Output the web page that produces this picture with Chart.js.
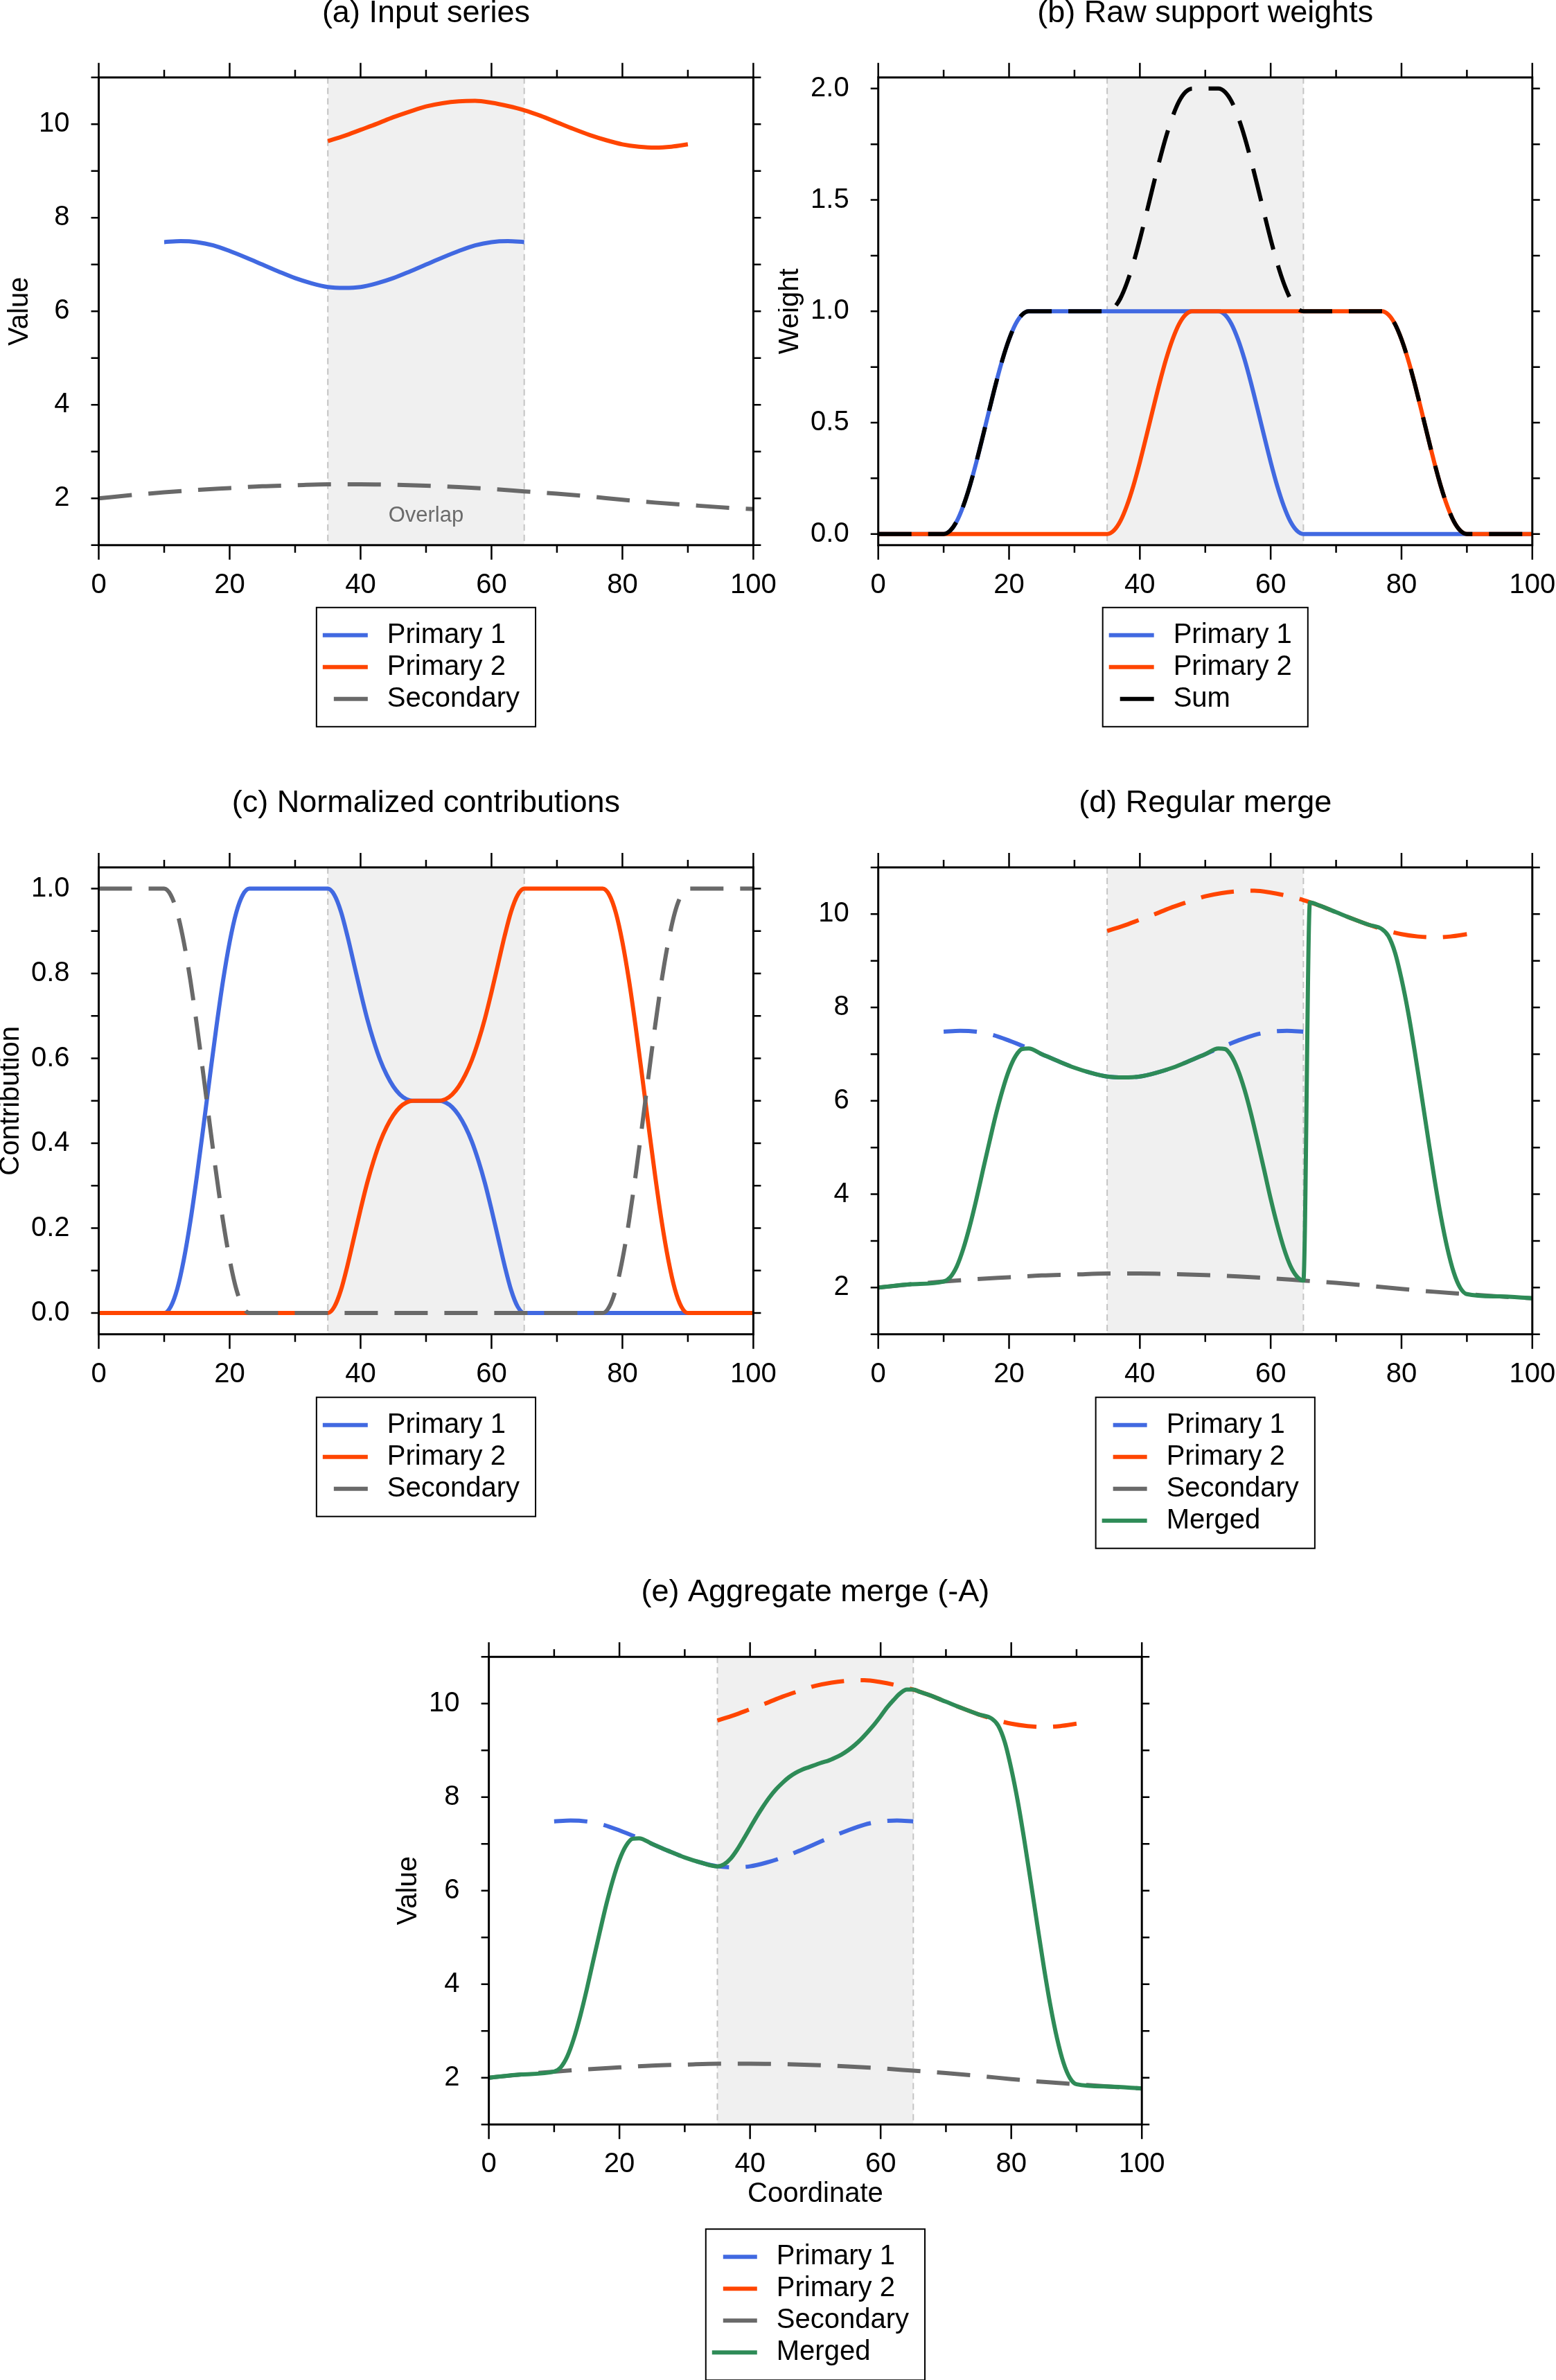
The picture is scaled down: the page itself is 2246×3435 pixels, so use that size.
<!DOCTYPE html>
<html>
<head>
<meta charset="utf-8">
<title>Merge panels</title>
<script src="https://cdn.jsdelivr.net/npm/chart.js@4.4.1/dist/chart.umd.min.js"></script>
<style>
  html, body { margin: 0; padding: 0; background: #fff; }
  #page { position: relative; width: 2246px; height: 3435px; }
  canvas { position: absolute; }
</style>
</head>
<body>
<div id="page">
  <canvas id="panelA" width="1123" height="1100" style="left:0px;top:0px"></canvas>
  <canvas id="panelB" width="1123" height="1100" style="left:1123px;top:0px"></canvas>
  <canvas id="panelC" width="1123" height="1130" style="left:0px;top:1110px"></canvas>
  <canvas id="panelD" width="1123" height="1130" style="left:1123px;top:1110px"></canvas>
  <canvas id="panelE" width="1130" height="1190" style="left:560px;top:2245px"></canvas>
</div>
<script>
// ---- axis ticks ----
var xTickVals = [0, 20, 40, 60, 80, 100];
var xTickLabels = ["0", "20", "40", "60", "80", "100"];
var xMinorVals = [10, 30, 50, 70, 90];
var valueTicks = [2, 4, 6, 8, 10];
var valueLabels = ["2", "4", "6", "8", "10"];
var valueMinor = [1, 3, 5, 7, 9, 11];
var weightTicks = [0, 0.5, 1, 1.5, 2];
var weightLabels = ["0.0", "0.5", "1.0", "1.5", "2.0"];
var weightMinor = [0.25, 0.75, 1.25, 1.75];
var contribTicks = [0, 0.2, 0.4, 0.6, 0.8, 1];
var contribLabels = ["0.0", "0.2", "0.4", "0.6", "0.8", "1.0"];
var contribMinor = [0.1, 0.3, 0.5, 0.7, 0.9];

var overlapRange = [35, 65];

// ---- input series ----
var primary1X = [10, 12.5, 15, 17.5, 20, 22.5, 25, 27.5, 30, 32.5, 35, 37.5, 40, 42.5, 45, 47.5, 50, 52.5, 55, 57.5, 60, 62.5, 65];
var primary1Y = [7.48, 7.5, 7.48, 7.41, 7.29, 7.15, 7.0, 6.85, 6.71, 6.6, 6.52, 6.5, 6.52, 6.6, 6.71, 6.85, 7.0, 7.15, 7.29, 7.41, 7.48, 7.5, 7.48];
var primary2X = [35, 37.5, 40, 42.5, 45, 47.5, 50, 52.5, 55, 57.5, 60, 62.5, 65, 67.5, 70, 72.5, 75, 77.5, 80, 82.5, 85, 87.5, 90];
var primary2Y = [9.64, 9.75, 9.88, 10.01, 10.15, 10.27, 10.38, 10.45, 10.49, 10.5, 10.46, 10.39, 10.3, 10.18, 10.04, 9.9, 9.77, 9.66, 9.57, 9.52, 9.5, 9.52, 9.57];
var secondaryX = [0, 5, 10, 15, 20, 25, 30, 35, 40, 45, 50, 55, 60, 65, 70, 75, 80, 85, 90, 95, 100];
var secondaryY = [2.0, 2.07, 2.13, 2.18, 2.22, 2.26, 2.28, 2.3, 2.3, 2.29, 2.27, 2.24, 2.2, 2.15, 2.1, 2.04, 1.97, 1.91, 1.86, 1.81, 1.77];

// ---- raw support weights ----
var weight1X = [0, 10, 11, 12, 13, 14, 15, 16, 17, 18, 19, 20, 21, 22, 23, 52, 53, 54, 55, 56, 57, 58, 59, 60, 61, 62, 63, 64, 65, 100];
var weight1Y = [0, 0, 0.015, 0.057, 0.126, 0.216, 0.323, 0.44, 0.56, 0.677, 0.784, 0.874, 0.943, 0.985, 1, 1, 0.985, 0.943, 0.874, 0.784, 0.677, 0.56, 0.44, 0.323, 0.216, 0.126, 0.057, 0.015, 0, 0];
var weight2X = [0, 35, 36, 37, 38, 39, 40, 41, 42, 43, 44, 45, 46, 47, 48, 77, 78, 79, 80, 81, 82, 83, 84, 85, 86, 87, 88, 89, 90, 100];
var weight2Y = [0, 0, 0.015, 0.057, 0.126, 0.216, 0.323, 0.44, 0.56, 0.677, 0.784, 0.874, 0.943, 0.985, 1, 1, 0.985, 0.943, 0.874, 0.784, 0.677, 0.56, 0.44, 0.323, 0.216, 0.126, 0.057, 0.015, 0, 0];
var weightSumX = [0, 10, 11, 12, 13, 14, 15, 16, 17, 18, 19, 20, 21, 22, 23,
  35, 36, 37, 38, 39, 40, 41, 42, 43, 44, 45, 46, 47, 48,
  52, 53, 54, 55, 56, 57, 58, 59, 60, 61, 62, 63, 64, 65,
  77, 78, 79, 80, 81, 82, 83, 84, 85, 86, 87, 88, 89, 90, 100];
var weightSumY = [0, 0, 0.015, 0.057, 0.126, 0.216, 0.323, 0.44, 0.56, 0.677, 0.784, 0.874, 0.943, 0.985, 1,
  1, 1.015, 1.057, 1.126, 1.216, 1.323, 1.44, 1.56, 1.677, 1.784, 1.874, 1.943, 1.985, 2,
  2, 1.985, 1.943, 1.874, 1.784, 1.677, 1.56, 1.44, 1.323, 1.216, 1.126, 1.057, 1.015, 1,
  1, 0.985, 0.943, 0.874, 0.784, 0.677, 0.56, 0.44, 0.323, 0.216, 0.126, 0.057, 0.015, 0, 0];

// ---- normalized contributions ----
var contrib1X = [0, 10, 11, 12, 13, 14, 15, 16, 17, 18, 19, 20, 21, 22, 23,
  35, 36, 37, 38, 39, 40, 41, 42, 43, 44, 45, 46, 47, 48,
  52, 53, 54, 55, 56, 57, 58, 59, 60, 61, 62, 63, 64, 65, 100];
var contrib1Y = [0, 0, 0.015, 0.057, 0.126, 0.216, 0.323, 0.44, 0.56, 0.677, 0.784, 0.874, 0.943, 0.985, 1,
  1, 0.985, 0.946, 0.888, 0.822, 0.756, 0.694, 0.641, 0.596, 0.561, 0.534, 0.515, 0.504, 0.5,
  0.5, 0.496, 0.485, 0.466, 0.439, 0.404, 0.359, 0.306, 0.244, 0.178, 0.112, 0.054, 0.015, 0, 0];
var contrib2X = [0, 35, 36, 37, 38, 39, 40, 41, 42, 43, 44, 45, 46, 47, 48,
  52, 53, 54, 55, 56, 57, 58, 59, 60, 61, 62, 63, 64, 65,
  77, 78, 79, 80, 81, 82, 83, 84, 85, 86, 87, 88, 89, 90, 100];
var contrib2Y = [0, 0, 0.015, 0.054, 0.112, 0.178, 0.244, 0.306, 0.359, 0.404, 0.439, 0.466, 0.485, 0.496, 0.5,
  0.5, 0.504, 0.515, 0.534, 0.561, 0.596, 0.641, 0.694, 0.756, 0.822, 0.888, 0.946, 0.985, 1,
  1, 0.985, 0.943, 0.874, 0.784, 0.677, 0.56, 0.44, 0.323, 0.216, 0.126, 0.057, 0.015, 0, 0];
var contribSecX = [0, 10, 11, 12, 13, 14, 15, 16, 17, 18, 19, 20, 21, 22, 23,
  77, 78, 79, 80, 81, 82, 83, 84, 85, 86, 87, 88, 89, 90, 100];
var contribSecY = [1, 1, 0.985, 0.943, 0.874, 0.784, 0.677, 0.56, 0.44, 0.323, 0.216, 0.126, 0.057, 0.015, 0,
  0, 0.015, 0.057, 0.126, 0.216, 0.323, 0.44, 0.56, 0.677, 0.784, 0.874, 0.943, 0.985, 1, 1];

// ---- merged results ----
var regularX = [0, 5, 10, 11, 12, 13, 14, 15, 16, 17, 18, 19, 20, 21, 22, 23,
  25, 27.5, 30, 32.5, 35, 37.5, 40, 42.5, 45, 47.5, 50,
  52, 53, 54, 55, 56, 57, 58, 59, 60, 61, 62, 63, 64, 65,
  66, 67.5, 70, 72.5, 75,
  77, 78, 79, 80, 81, 82, 83, 84, 85, 86, 87, 88, 89, 90, 95, 100];
var regularY = [2.0, 2.07, 2.13, 2.22, 2.45, 2.83, 3.32, 3.89, 4.51, 5.12, 5.71, 6.23, 6.66, 6.96, 7.11, 7.12,
  7.0, 6.85, 6.71, 6.6, 6.52, 6.5, 6.52, 6.6, 6.71, 6.85, 7.0,
  7.12, 7.11, 6.96, 6.66, 6.24, 5.72, 5.13, 4.52, 3.9, 3.34, 2.85, 2.47, 2.24, 2.15,
  10.25, 10.18, 10.04, 9.9, 9.77,
  9.68, 9.53, 9.18, 8.61, 7.91, 7.08, 6.18, 5.26, 4.36, 3.54, 2.85, 2.32, 1.99, 1.86, 1.81, 1.77];
var aggregateX = [0, 5, 10, 11, 12, 13, 14, 15, 16, 17, 18, 19, 20, 21, 22, 23,
  25, 27.5, 30, 32.5,
  35, 36, 37, 38, 39, 40, 41, 42, 43, 44, 45, 46, 47, 48, 49, 50,
  51, 52, 53, 54, 55, 56, 57, 58, 59, 60, 61, 62, 63, 64, 65,
  66, 67.5, 70, 72.5, 75,
  77, 78, 79, 80, 81, 82, 83, 84, 85, 86, 87, 88, 89, 90, 95, 100];
var aggregateY = [2.0, 2.07, 2.13, 2.22, 2.45, 2.83, 3.32, 3.89, 4.51, 5.12, 5.71, 6.23, 6.66, 6.96, 7.11, 7.12,
  7.0, 6.85, 6.71, 6.6,
  6.52, 6.56, 6.68, 6.87, 7.1, 7.34, 7.58, 7.8, 8.0, 8.17, 8.31, 8.43, 8.52, 8.59, 8.64, 8.69,
  8.74, 8.78, 8.84, 8.91, 9.0, 9.11, 9.24, 9.39, 9.55, 9.73, 9.92, 10.08, 10.22, 10.3, 10.3,
  10.25, 10.18, 10.04, 9.9, 9.77,
  9.68, 9.53, 9.18, 8.61, 7.91, 7.08, 6.18, 5.26, 4.36, 3.54, 2.85, 2.32, 1.99, 1.86, 1.81, 1.77];

var FONT = "'Liberation Sans', Arial, Helvetica, sans-serif";
var DASH = [48, 24];
var BLUE = "#4169E1", ORANGE = "#FF4500", GRAY = "#696969", GREEN = "#2E8B57";

function pts(xs, ys) {
  return xs.map(function (x, i) { return { x: x, y: ys[i] }; });
}

function series(label, xs, ys, color, dashed, order) {
  return {
    label: label,
    data: pts(xs, ys),
    borderColor: color,
    backgroundColor: color,
    borderWidth: 6,
    borderDash: dashed ? DASH : [],
    pointRadius: 0,
    fill: false,
    cubicInterpolationMode: "monotone",
    order: order
  };
}

// shading, frame, ticks, title and boxed legend
function decor(cfg) {
  return {
    id: "decor",
    beforeDatasetsDraw: function (chart) {
      var ctx = chart.ctx, a = chart.chartArea, xs = chart.scales.x, ys = chart.scales.y;
      var x0 = xs.getPixelForValue(overlapRange[0]), x1 = xs.getPixelForValue(overlapRange[1]);
      ctx.save();
      ctx.fillStyle = "#f0f0f0";
      ctx.fillRect(x0, a.top, x1 - x0, a.bottom - a.top);
      ctx.strokeStyle = "#c4c4c4";
      ctx.lineWidth = 2;
      ctx.setLineDash([9, 6]);
      [x0, x1].forEach(function (x) {
        ctx.beginPath(); ctx.moveTo(x, a.top); ctx.lineTo(x, a.bottom); ctx.stroke();
      });
      if (cfg.overlapText) {
        ctx.setLineDash([]);
        ctx.fillStyle = "#6b6b6b";
        ctx.font = "31px " + FONT;
        ctx.textAlign = "center";
        ctx.textBaseline = "middle";
        ctx.fillText(cfg.overlapText, xs.getPixelForValue(50), ys.getPixelForValue(1.62));
      }
      ctx.restore();
    },
    afterDraw: function (chart) {
      var ctx = chart.ctx, a = chart.chartArea, xs = chart.scales.x, ys = chart.scales.y;
      ctx.save();
      ctx.setLineDash([]);
      ctx.strokeStyle = "#000";
      ctx.lineWidth = 3;
      ctx.strokeRect(a.left, a.top, a.right - a.left, a.bottom - a.top);

      ctx.lineWidth = 2.5;
      function xt(v, len) {
        var p = xs.getPixelForValue(v);
        ctx.beginPath();
        ctx.moveTo(p, a.bottom); ctx.lineTo(p, a.bottom + len);
        ctx.moveTo(p, a.top); ctx.lineTo(p, a.top - len);
        ctx.stroke();
      }
      function yt(v, len) {
        var p = ys.getPixelForValue(v);
        ctx.beginPath();
        ctx.moveTo(a.left, p); ctx.lineTo(a.left - len, p);
        ctx.moveTo(a.right, p); ctx.lineTo(a.right + len, p);
        ctx.stroke();
      }
      xTickVals.forEach(function (v) { xt(v, 21); });
      xMinorVals.forEach(function (v) { xt(v, 11); });
      cfg.yTicks.forEach(function (v) { yt(v, 11); });
      cfg.yMinor.forEach(function (v) { yt(v, 11); });

      // panel title
      ctx.fillStyle = "#000";
      ctx.font = "45px " + FONT;
      ctx.textAlign = "center";
      ctx.textBaseline = "middle";
      ctx.fillText(cfg.title, (a.left + a.right) / 2, a.top - 92.5);

      // legend
      var ds = chart.data.datasets;
      ctx.font = "40px " + FONT;
      var tw = Math.max.apply(null, ds.map(function (d) { return ctx.measureText(d.label).width; }));
      var lw = 102 + tw + 23;
      var lh = 80 + (ds.length - 1) * 46;
      var lx = (a.left + a.right) / 2 - lw / 2;
      var ly = a.bottom + cfg.legendGap;
      ctx.lineWidth = 2;
      ctx.strokeStyle = "#000";
      ctx.strokeRect(lx, ly, lw, lh);
      ds.forEach(function (d, i) {
        var y = ly + 40 + i * 46;
        ctx.strokeStyle = d.borderColor;
        ctx.lineWidth = 6;
        ctx.beginPath();
        ctx.moveTo(lx + (d.borderDash.length ? 25 : 9), y);
        ctx.lineTo(lx + 74, y);
        ctx.stroke();
        ctx.fillStyle = "#000";
        ctx.textAlign = "left";
        ctx.textBaseline = "middle";
        ctx.fillText(d.label, lx + 102, y);
      });
      ctx.restore();
    }
  };
}

function buildPanel(id, cfg) {
  var c = document.getElementById(id);
  var W = c.width, H = c.height, box = cfg.box;
  var xAxisH = cfg.xAxisH || 110;
  var yTitle = cfg.yTitle
    ? { display: true, text: cfg.yTitle, color: "#000", font: { family: FONT, size: 40, lineHeight: 1.2 }, padding: { top: cfg.yTitlePad, bottom: 0 } }
    : { display: false };
  var xTitle = cfg.xTitle
    ? { display: true, text: cfg.xTitle, color: "#000", font: { family: FONT, size: 40, lineHeight: 1.2 }, padding: { top: 0, bottom: cfg.xTitlePad } }
    : { display: false };
  return new Chart(c, {
    type: "line",
    data: { datasets: cfg.datasets },
    options: {
      responsive: false,
      animation: false,
      devicePixelRatio: 1,
      layout: { padding: { left: 0, top: box.t, right: W - box.r, bottom: H - box.b - xAxisH } },
      plugins: { legend: { display: false }, tooltip: { enabled: false }, title: { display: false } },
      scales: {
        x: {
          type: "linear", min: 0, max: 100,
          grid: { display: false, drawTicks: false },
          border: { display: false },
          afterBuildTicks: function (s) { s.ticks = xTickVals.map(function (v) { return { value: v }; }); },
          ticks: {
            // tall line box puts the label centre 58px under the frame without tick padding
            color: "#000", font: { family: FONT, size: 40, lineHeight: 2.9 }, padding: 0,
            maxRotation: 0, autoSkip: false,
            callback: function (v, i) { return xTickLabels[i]; }
          },
          title: xTitle,
          afterFit: function (s) { s.height = xAxisH; }
        },
        y: {
          type: "linear", min: cfg.yMin, max: cfg.yMax,
          grid: { display: false, drawTicks: false },
          border: { display: false },
          afterBuildTicks: function (s) { s.ticks = cfg.yTicks.map(function (v) { return { value: v }; }); },
          ticks: {
            color: "#000", font: { family: FONT, size: 40 }, padding: 42,
            autoSkip: false,
            callback: function (v, i) { return cfg.yLabels[i]; }
          },
          title: yTitle,
          afterFit: function (s) { s.width = box.l; }
        }
      }
    },
    plugins: [decor(cfg)]
  });
}

buildPanel("panelA", {
  title: "(a) Input series",
  box: { l: 142.5, r: 1087.4, t: 111.8, b: 786.8 },
  yMin: 1, yMax: 11, yTicks: valueTicks, yLabels: valueLabels, yMinor: valueMinor,
  yTitle: "Value", yTitlePad: 5,
  legendGap: 90, overlapText: "Overlap",
  datasets: [
    series("Primary 1", primary1X, primary1Y, BLUE, false, 3),
    series("Primary 2", primary2X, primary2Y, ORANGE, false, 2),
    series("Secondary", secondaryX, secondaryY, GRAY, true, 1)
  ]
});

buildPanel("panelB", {
  title: "(b) Raw support weights",
  box: { l: 144.7, r: 1088.8, t: 111.8, b: 786.8 },
  yMin: -0.05, yMax: 2.05, yTicks: weightTicks, yLabels: weightLabels, yMinor: weightMinor,
  yTitle: "Weight", yTitlePad: -6,
  legendGap: 90,
  datasets: [
    series("Primary 1", weight1X, weight1Y, BLUE, false, 3),
    series("Primary 2", weight2X, weight2Y, ORANGE, false, 2),
    series("Sum", weightSumX, weightSumY, "#000000", true, 1)
  ]
});

buildPanel("panelC", {
  title: "(c) Normalized contributions",
  box: { l: 142.5, r: 1087.4, t: 141.9, b: 815.7 },
  yMin: -0.05, yMax: 1.05, yTicks: contribTicks, yLabels: contribLabels, yMinor: contribMinor,
  yTitle: "Contribution", yTitlePad: -8,
  legendGap: 91,
  datasets: [
    series("Primary 1", contrib1X, contrib1Y, BLUE, false, 3),
    series("Primary 2", contrib2X, contrib2Y, ORANGE, false, 2),
    series("Secondary", contribSecX, contribSecY, GRAY, true, 1)
  ]
});

buildPanel("panelD", {
  title: "(d) Regular merge",
  box: { l: 144.7, r: 1088.8, t: 141.9, b: 815.7 },
  yMin: 1, yMax: 11, yTicks: valueTicks, yLabels: valueLabels, yMinor: valueMinor,
  legendGap: 91,
  datasets: [
    series("Primary 1", primary1X, primary1Y, BLUE, true, 4),
    series("Primary 2", primary2X, primary2Y, ORANGE, true, 3),
    series("Secondary", secondaryX, secondaryY, GRAY, true, 2),
    series("Merged", regularX, regularY, GREEN, false, 1)
  ]
});

buildPanel("panelE", {
  title: "(e) Aggregate merge (-A)",
  box: { l: 145.6, r: 1088.2, t: 146.3, b: 821.2 },
  xAxisH: 140,
  yMin: 1, yMax: 11, yTicks: valueTicks, yLabels: valueLabels, yMinor: valueMinor,
  yTitle: "Value", yTitlePad: 6,
  xTitle: "Coordinate", xTitlePad: 15.5,
  legendGap: 151,
  datasets: [
    series("Primary 1", primary1X, primary1Y, BLUE, true, 4),
    series("Primary 2", primary2X, primary2Y, ORANGE, true, 3),
    series("Secondary", secondaryX, secondaryY, GRAY, true, 2),
    series("Merged", aggregateX, aggregateY, GREEN, false, 1)
  ]
});
</script>
</body>
</html>
